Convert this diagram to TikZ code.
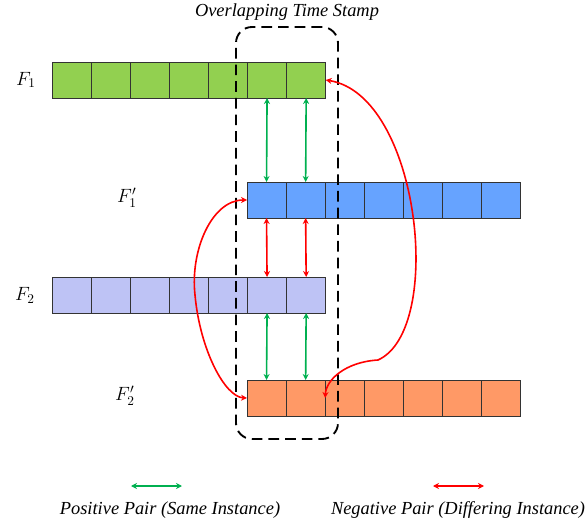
\documentclass[tikz,border=0pt]{standalone}
\usepackage{fontspec}
\setmainfont{Liberation Serif}
\usetikzlibrary{arrows.meta,positioning}
\definecolor{cellgreen}{HTML}{92D050}
\definecolor{cellblue}{HTML}{66A3FF}
\definecolor{celllav}{HTML}{BEC3F5}
\definecolor{cellorange}{HTML}{FF9966}
\definecolor{posgreen}{HTML}{00B050}
\definecolor{negred}{HTML}{FF0000}
\tikzstyle{cell} = [rectangle, minimum width=29.3pt, minimum height=27pt, inner sep=0pt, outer sep=0pt, draw=black!80, line width=0.7pt]
\tikzstyle{pospair} = [{Stealth[length=4.5pt,width=4.5pt]}-{Stealth[length=4.5pt,width=4.5pt]}, draw=posgreen, line width=1.2pt]
\tikzstyle{negpair} = [{Stealth[length=4.5pt,width=4.5pt]}-{Stealth[length=4.5pt,width=4.5pt]}, draw=negred, line width=1.2pt]
\tikzstyle{featname} = [font=\Large]
\tikzstyle{legendtext} = [font=\fontsize{13.8}{16}\selectfont\itshape]

\begin{document}
\begin{tikzpicture}[x=0.75pt, y=-0.75pt]
    \useasboundingbox (0,0) rectangle (587,521);

    % feature sequences
    \foreach \i in {1,...,7} {
        \node(F1-\i)[cell, fill=cellgreen] at ({52+39.1*(\i-0.5)},80) {};
        \node(G1-\i)[cell, fill=cellblue] at ({247+39.1*(\i-0.5)},200) {};
        \node(F2-\i)[cell, fill=celllav] at ({52+39.1*(\i-0.5)},295) {};
        \node(G2-\i)[cell, fill=cellorange] at ({247+39.1*(\i-0.5)},398) {};
    }

    \node(nameF1)[featname] at (26,80) {$F_1$};
    \node(nameG1)[featname] at (127,198) {$F_1'$};
    \node(nameF2)[featname] at (25,295) {$F_2$};
    \node(nameG2)[featname] at (125,396) {$F_2'$};

    % overlap window
    \node(overlap)[draw=black, dash pattern=on 8pt off 4.5pt, line width=1.4pt, rounded corners=12pt, minimum width=76.5pt, minimum height=309pt] at (287,233) {};
    \node(title)[legendtext, above=1pt of overlap] {Overlapping Time Stamp};

    % pairs
    \draw[pospair] (F1-6.south) -- (G1-1.north);
    \draw[pospair] (F1-7.south) -- (G1-2.north);
    \draw[negpair] (G1-1.south) -- (F2-6.north);
    \draw[negpair] (G1-2.south) -- (F2-7.north);
    \draw[pospair] (F2-6.south) -- (G2-1.north);
    \draw[pospair] (F2-7.south) -- (G2-2.north);

    \draw[negpair] (F1-7.east) .. controls (420,95) and (445,330) .. (378,360) .. controls (345,362) and (326,380) .. (G2-2.east);
    \draw[negpair] (G1-1.west) .. controls (212,200) and (190,250) .. (195,295) .. controls (200,350) and (225,397) .. (G2-1.west);

    % legend
    \coordinate(posA) at (131,486);
    \coordinate(posB) at (182,486);
    \coordinate(negA) at (433,486);
    \coordinate(negB) at (484,486);
    \draw[pospair] (posA) -- (posB);
    \draw[negpair] (negA) -- (negB);
    \node(postext)[legendtext] at (170,510) {Positive Pair (Same Instance)};
    \node(negtext)[legendtext] at (458,510) {Negative Pair (Differing Instance)};

\end{tikzpicture}
\end{document}
